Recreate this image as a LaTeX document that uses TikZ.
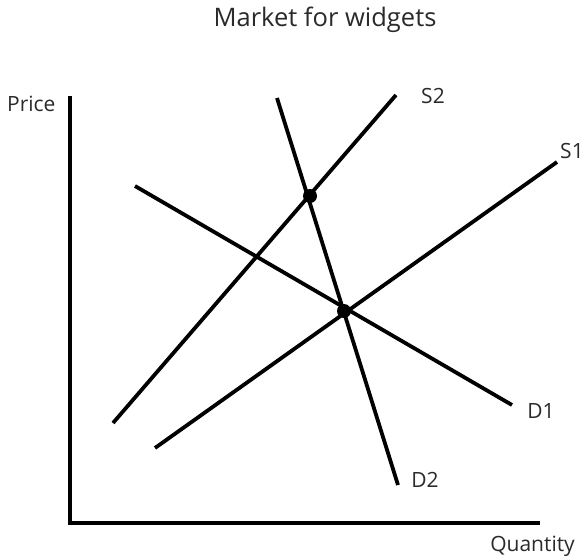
\documentclass[tikz,border=0pt]{standalone}
\usepackage{fontspec}
\setmainfont{Open Sans}
\definecolor{txt}{HTML}{2A2A2A}
\begin{document}
\begin{tikzpicture}[x=1pt,y=-1pt,
  curve/.style={line width=3.8pt},
  axis/.style={line width=3.8pt},
  lbl/.style={text=txt,font=\fontsize{21}{24}\selectfont,inner sep=0pt},
  eq/.style={circle,fill=black,inner sep=0pt,minimum size=14pt}]
\useasboundingbox (0,0) rectangle (587,560);
\node[lbl,font=\fontsize{25.5}{28}\selectfont] (title) at (325,20) {Market for widgets};
\coordinate (top) at (70,96);
\coordinate (origin) at (70,523);
\coordinate (right) at (540,523);
\draw[axis] (top) -- (origin) -- (right);
\node[lbl,anchor=west] (price) at (7,104) {Price};
\node[lbl,anchor=east] (qty) at (575,546) {Quantity};
\coordinate (s2a) at (113,423); \coordinate (s2b) at (396,95);
\coordinate (s1a) at (155,448); \coordinate (s1b) at (557,162);
\coordinate (d1a) at (135,186); \coordinate (d1b) at (512,405);
\coordinate (d2a) at (277,98); \coordinate (d2b) at (398,485);
\draw[curve] (s2a) -- (s2b);
\draw[curve] (s1a) -- (s1b);
\draw[curve] (d1a) -- (d1b);
\draw[curve] (d2a) -- (d2b);
\node[lbl] (s2) at (433,96) {S2};
\node[lbl] (s1) at (572,151) {S1};
\node[lbl] (d1) at (541,411) {D1};
\node[lbl] (d2) at (425,480) {D2};
\node[eq] (e1) at (310,196) {};
\node[eq] (e2) at (344,311) {};
\end{tikzpicture}
\end{document}
